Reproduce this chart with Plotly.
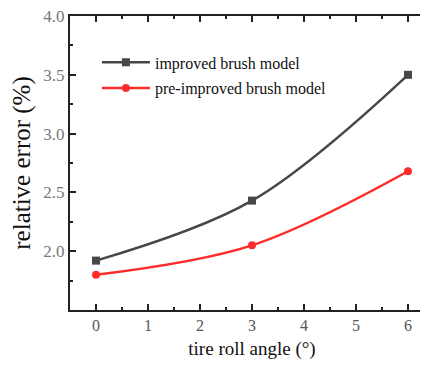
import plotly.graph_objects as go

angles = [0, 3, 6]
improved = [1.92, 2.43, 3.50]
pre_improved = [1.80, 2.05, 2.68]
y_ticks = [2.0, 2.5, 3.0, 3.5, 4.0]
y_tick_text = ["2.0", "2.5", "3.0", "3.5", "4.0"]
x_ticks = [0, 1, 2, 3, 4, 5, 6]

serif = "Liberation Serif"

fig = go.Figure()
fig.add_trace(go.Scatter(
    x=angles, y=improved, name="improved brush model", legendgroup="a",
    mode="lines+markers",
    line=dict(color="#474747", width=2.5, shape="spline", smoothing=1),
    marker=dict(symbol="square", size=8, color="#474747"),
))
fig.add_trace(go.Scatter(
    x=angles, y=pre_improved, name="pre-improved brush model", legendgroup="b",
    mode="lines+markers",
    line=dict(color="#ff2a2a", width=2.5, shape="spline", smoothing=1),
    marker=dict(symbol="circle", size=8, color="#ff2a2a"),
))

fig.update_layout(
    width=428, height=365,
    margin=dict(l=62, r=2, t=8, b=63),
    plot_bgcolor="white", paper_bgcolor="white",
    font=dict(family=serif, color="#222"),
    showlegend=True,
    legend=dict(
        x=0.074, y=0.90, xanchor="left", yanchor="top",
        bgcolor="rgba(0,0,0,0)", borderwidth=0,
        font=dict(family=serif, size=16, color="#111"),
        itemwidth=48, traceorder="grouped", tracegroupgap=2,
    ),
    xaxis=dict(
        range=[-0.5, 6.5], tickvals=x_ticks, automargin=False,
        showline=True, linecolor="#222", linewidth=2, mirror="ticks",
        ticks="inside", ticklen=6, tickwidth=2, tickcolor="#222",
        minor=dict(ticks="inside", ticklen=3, tickwidth=2, dtick=0.5, tick0=0, tickcolor="#222"),
        showgrid=False, zeroline=False,
        tickfont=dict(family=serif, size=16, color="#555"),
        title=dict(text="tire roll angle (°)", font=dict(family=serif, size=19, color="#111"), standoff=8),
    ),
    yaxis=dict(
        range=[1.5, 4.0], tickvals=y_ticks, ticktext=y_tick_text, automargin=False,
        ticklabeloverflow="allow",
        showline=True, linecolor="#222", linewidth=2, mirror="ticks",
        ticks="inside", ticklen=6, tickwidth=2, tickcolor="#222",
        minor=dict(ticks="inside", ticklen=3, tickwidth=2, dtick=0.25, tick0=1.5, tickcolor="#222"),
        showgrid=False, zeroline=False,
        tickfont=dict(family=serif, size=17, color="#777"),
        title=dict(text="relative error (%)", font=dict(family=serif, size=25, color="#111"), standoff=6),
    ),
)

fig.write_html("out.html")
